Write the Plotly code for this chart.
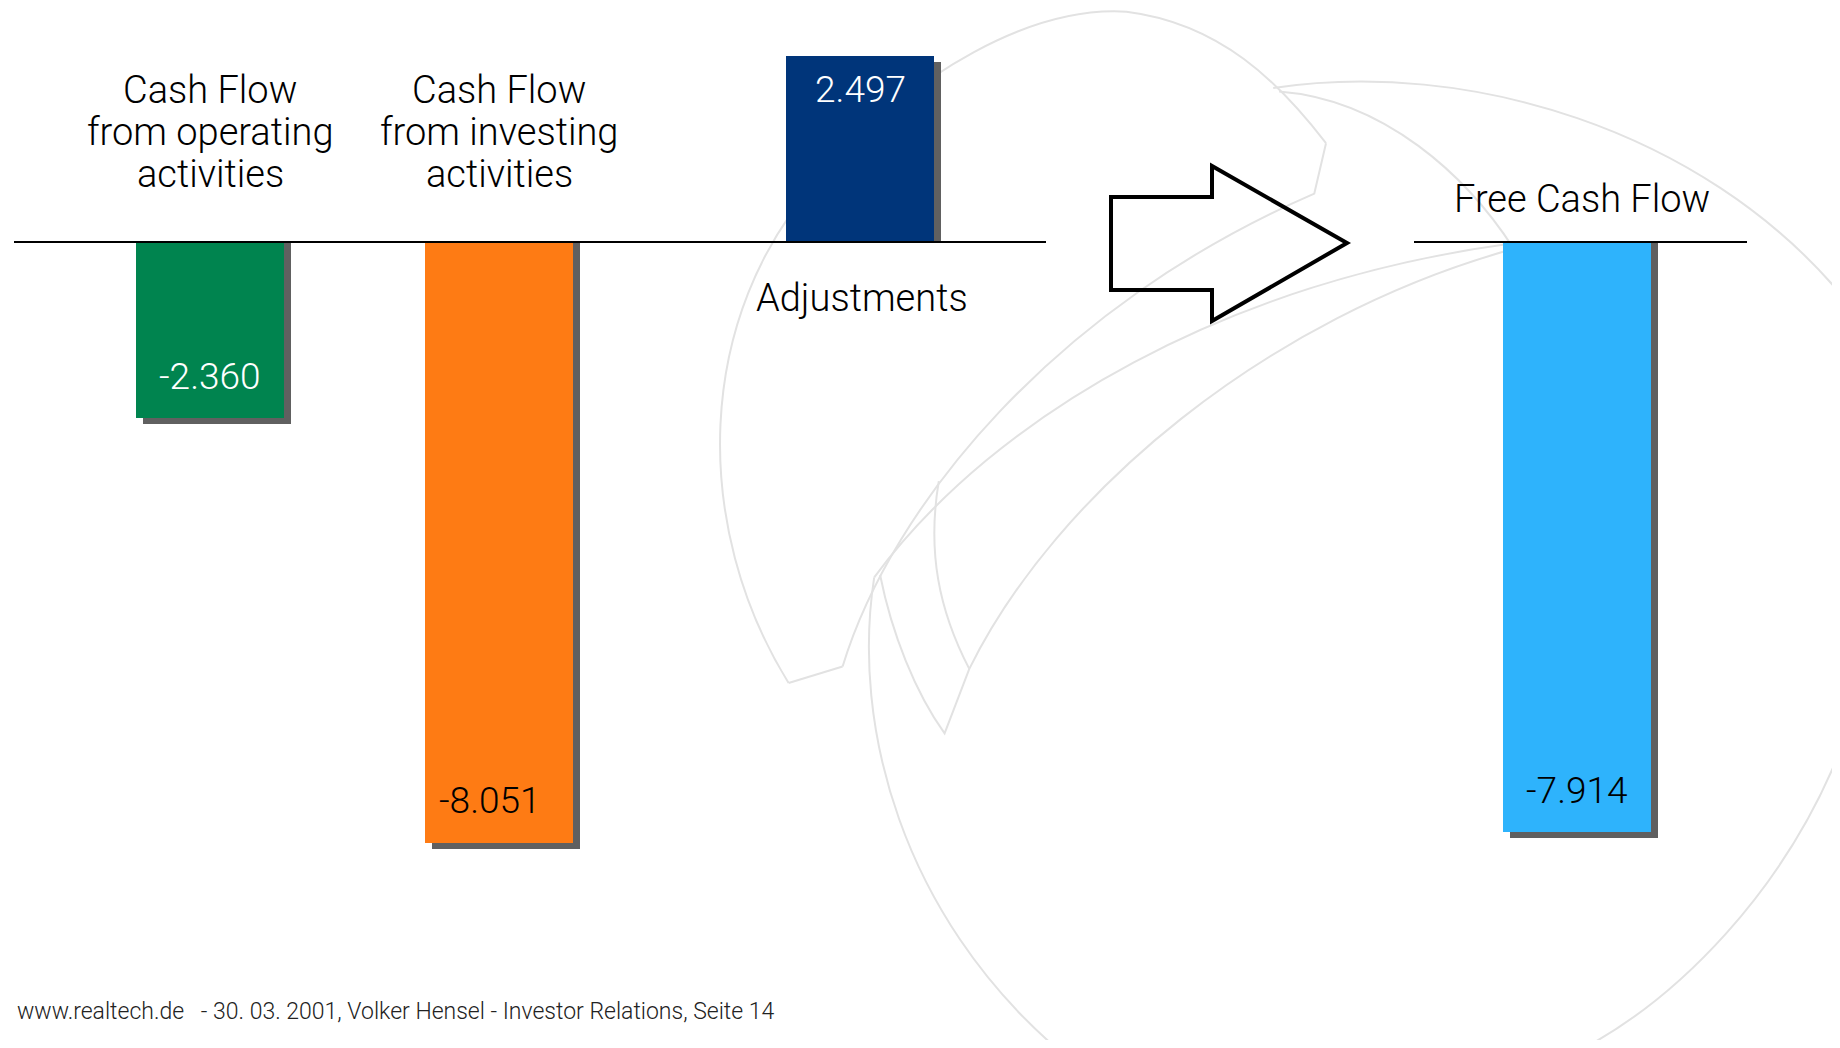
import re
import plotly.graph_objects as go

# Free cash flow bridge, values in T EUR
categories = [
    "Cash Flow<br>from operating<br>activities",
    "Cash Flow<br>from investing<br>activities",
    "Adjustments",
    "Free Cash Flow",
]
values = [-2360, -8051, 2497, -7914]
footer = "www.realtech.de   - 30. 03. 2001, Volker Hensel - Investor Relations, Seite 14"

# layout, in page pixels (the page body has an 8 px margin)
PAGE_W, PAGE_H = 1840, 1048
OFF = 8
W, H = PAGE_W - OFF, PAGE_H - 16
ZERO_PX = 242            # baseline position from top of page
PX_PER_UNIT = 0.0746     # pixels per T EUR
BAR_W = 148
bar_x = [210, 499, 860, 1577]
label_pos = [(210, 90), (499, 90), (862, 298), (1582, 199)]
value_xshift = [0, -9, 0, 0]
bar_colors = ["#00844f", "#fe7b14", "#00357a", "#2eb3fc"]
value_colors = ["white", "black", "white", "black"]
SHADOW = "#606060"
FONT = "Roboto, Liberation Sans, sans-serif"


def fmt(v):
    return f"{v:,}".replace(",", ".")


def scale_path(p, k=PAGE_W / 1568):
    # watermark traced on a 1568 px wide copy of the slide
    return re.sub(r"-?\d+(\.\d+)?", lambda m: f"{float(m.group()) * k:.1f}", p)


fig = go.Figure()

# drop shadows
fig.add_trace(go.Bar(
    x=[x + 7 for x in bar_x],
    y=[v - 6 / PX_PER_UNIT for v in values],
    width=BAR_W,
    marker=dict(color=SHADOW, line_width=0),
    hoverinfo="skip",
))
fig.add_trace(go.Bar(
    x=bar_x,
    y=values,
    width=BAR_W,
    marker=dict(color=bar_colors, line_width=0),
    hovertext=[c.replace("<br>", " ") for c in categories],
    hoverinfo="text+y",
))
# pixel overlay axis for text and decoration
fig.add_trace(go.Scatter(x=[OFF], y=[OFF], yaxis="y2", mode="markers",
                         marker=dict(opacity=0), hoverinfo="skip"))

# value labels near the bar ends
for x, v, dx, c in zip(bar_x, values, value_xshift, value_colors):
    fig.add_annotation(
        x=x, y=v, xref="x", yref="y", text=fmt(v), showarrow=False,
        xshift=dx, yshift=42 if v < 0 else -34,
        font=dict(family=FONT, size=37, color=c, weight=300),
    )

# category labels, one annotation per line to keep the tight leading
for label, (lx, ly) in zip(categories, label_pos):
    for i, line in enumerate(label.split("<br>")):
        fig.add_annotation(
            x=lx, y=ly + i * 42, xref="x", yref="y2", text=line,
            showarrow=False, font=dict(family=FONT, size=38, color="black", weight=300),
        )

fig.add_annotation(
    x=15, y=1011, xref="x", yref="y2", text=footer, showarrow=False,
    xanchor="left", font=dict(family=FONT, size=23, color="#222222", weight=300),
)

# faint logo watermark
watermark = [
    "M672,582 C590,450 590,270 700,150 C780,60 880,5 960,10 C1040,20 1090,70 1130,122",
    "M672,582 L718,568",
    "M718,568 C760,430 900,260 1120,165 L1130,122",
    "M1085,75 C1250,50 1450,110 1568,250",
    "M1090,78 C1180,85 1250,150 1290,212",
    "M745,492 C850,350 1050,240 1285,208",
    "M826,570 C900,420 1080,270 1290,212",
    "M750,490 C760,540 780,590 805,625 L826,570",
    "M800,410 C790,470 800,520 826,570",
    "M745,492 C725,620 770,780 900,893",
    "M1568,640 C1520,760 1430,850 1350,893",
]
for p in watermark:
    fig.add_shape(type="path", path=scale_path(p), xref="x", yref="y2",
                  line=dict(color="#e2e2e2", width=2), layer="below")

# zero lines
for x0, x1 in [(14, 1046), (1414, 1747)]:
    fig.add_shape(type="line", x0=x0, x1=x1, y0=0, y1=0, xref="x", yref="y",
                  line=dict(color="black", width=2))

# outline arrow
fig.add_shape(
    type="path", xref="x", yref="y2",
    path="M1111,197 L1212,197 L1212,166 L1347,243 L1212,321 L1212,290 L1111,290 Z",
    line=dict(color="black", width=4), fillcolor="rgba(0,0,0,0)",
)

fig.update_layout(
    width=W, height=H,
    margin=dict(l=0, r=0, t=0, b=0),
    paper_bgcolor="white", plot_bgcolor="white",
    barmode="overlay", bargap=0,
    showlegend=False,
    xaxis=dict(range=[OFF, OFF + W], visible=False, fixedrange=True),
    yaxis=dict(range=[-(OFF + H - ZERO_PX) / PX_PER_UNIT, (ZERO_PX - OFF) / PX_PER_UNIT],
               visible=False, fixedrange=True),
    yaxis2=dict(range=[OFF + H, OFF], overlaying="y", visible=False, fixedrange=True),
)

fig.write_html("out.html")
